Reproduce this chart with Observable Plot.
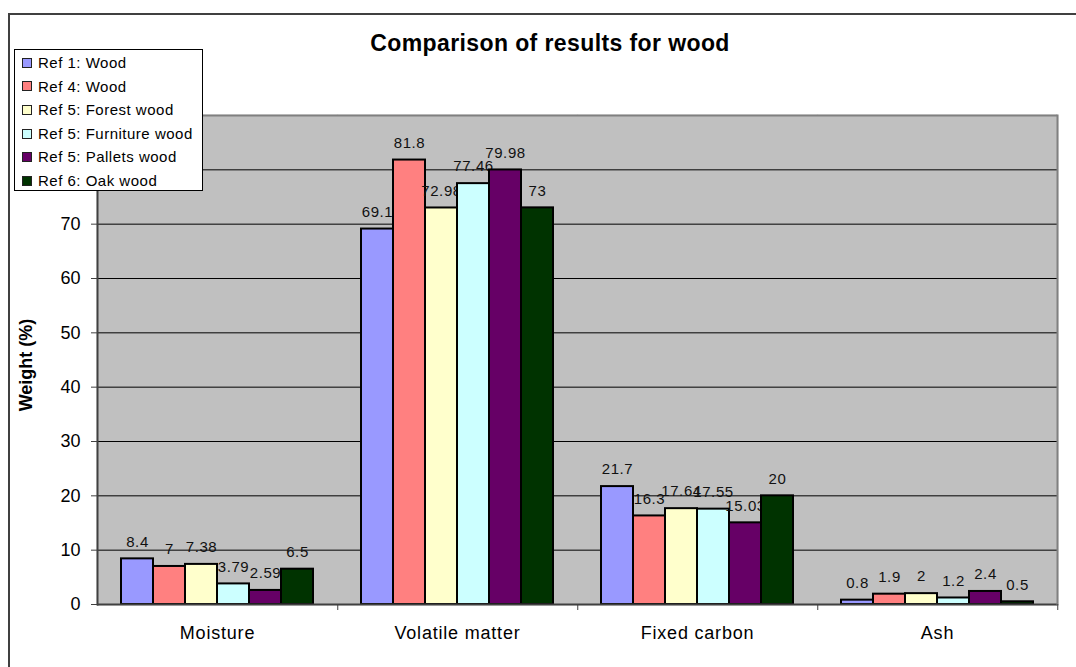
<!DOCTYPE html>
<html>
<head>
<meta charset="utf-8">
<script src="https://cdn.jsdelivr.net/npm/d3@7"></script>
<script src="https://cdn.jsdelivr.net/npm/@observablehq/plot@0.6"></script>
<style>
  body { margin: 0; background: white; font-family: "Liberation Sans", Arial, sans-serif; }
  #wrap { position: relative; width: 1076px; height: 667px; overflow: hidden; }
  #outer { position: absolute; left: 8px; top: 13px; width: 1100px; height: 700px;
           border-top: 2px solid #404040; border-left: 2px solid #404040; pointer-events: none; }
  #title { position: absolute; left: 0; width: 1100px; top: 30px; text-align: center;
           font-weight: bold; font-size: 23px; letter-spacing: 0.4px; color: black; }
  #ylabel { position: absolute; left: 26px; top: 365px; transform: translate(-50%, -50%) rotate(-90deg);
            font-weight: bold; font-size: 18px; white-space: nowrap; }
  #legend { position: absolute; left: 14px; top: 49px; width: 189px; height: 142px; background: white;
            border: 1px solid black; padding-top: 1px; box-sizing: border-box; }
  .item { height: 23.6px; line-height: 23.6px; font-size: 15px; letter-spacing: 0.5px; white-space: nowrap; display: flex; align-items: center; }
  .sw { width: 8px; height: 8px; border: 1px solid #222; margin-left: 7px; margin-right: 6px; }
  #chart svg g[aria-label="text"] text { letter-spacing: 0.6px; }
  #chart svg g[aria-label="fx-axis tick label"] text { letter-spacing: 0.8px; }
</style>
</head>
<body>
<div id="wrap">
  <div id="chart"></div>
  <div id="outer"></div>
  <div id="title">Comparison of results for wood</div>
  <div id="ylabel">Weight (%)</div>
  <div id="legend"></div>
</div>
<script>
const categories = ["Moisture", "Volatile matter", "Fixed carbon", "Ash"];
const series = ["Ref 1: Wood", "Ref 4: Wood", "Ref 5: Forest wood", "Ref 5: Furniture wood", "Ref 5: Pallets wood", "Ref 6: Oak wood"];
const colors = ["#9999FF", "#FF8080", "#FFFFCC", "#CCFFFF", "#660066", "#003300"];
const ref1Wood      = [8.4, 69.1, 21.7, 0.8];
const ref4Wood      = [7, 81.8, 16.3, 1.9];
const ref5Forest    = [7.38, 72.98, 17.64, 2];
const ref5Furniture = [3.79, 77.46, 17.55, 1.2];
const ref5Pallets   = [2.59, 79.98, 15.03, 2.4];
const ref6Oak       = [6.5, 73, 20, 0.5];
const yTicks = [0, 10, 20, 30, 40, 50, 60, 70];   // 80 and 90 sit behind the legend
const gridLines = [10, 20, 30, 40, 50, 60, 70, 80];

const seriesValues = [ref1Wood, ref4Wood, ref5Forest, ref5Furniture, ref5Pallets, ref6Oak];
const rows = [];
series.forEach((s, i) => categories.forEach((c, j) => rows.push({series: s, category: c, value: seriesValues[i][j]})));

const W = 1076, H = 667, mL = 96, mR = 18;
const fxBand = (W - mL - mR) / categories.length;

const barMarks = series.flatMap(s => {
  const d = rows.filter(r => r.series === s);
  return [
    Plot.barY(d, {fx: "category", x: "series", y: "value", fill: "series", stroke: "black", strokeWidth: 2}),
    Plot.text(d, {fx: "category", x: "series", y: "value", text: r => String(r.value), dy: -17, fontSize: 15, fill: "#111"})
  ];
});

const chart = Plot.plot({
  width: W, height: H,
  marginLeft: mL, marginRight: mR, marginTop: 115, marginBottom: 63,
  style: {fontFamily: "Liberation Sans, Arial, sans-serif", background: "transparent", color: "black"},
  fx: {domain: categories, padding: 0, label: null, axis: null},
  x: {domain: series, paddingInner: 0, paddingOuter: 0.72, axis: null},
  y: {domain: [0, 90], label: null, axis: null},
  color: {domain: series, range: colors},
  marks: [
    Plot.frame({fill: "#C0C0C0", stroke: "#C0C0C0", strokeWidth: 1.5}),
    Plot.ruleY(gridLines, {stroke: "black", strokeWidth: 1}),
    Plot.ruleY([90], {stroke: "#808080", strokeWidth: 2}),
    ...barMarks,
    Plot.ruleY([0], {stroke: "#404040", strokeWidth: 2}),
    Plot.frame({anchor: "left", facetAnchor: "left", stroke: "#404040", strokeWidth: 2}),
    Plot.frame({anchor: "right", facetAnchor: "right", stroke: "#808080", strokeWidth: 2}),
    Plot.axisY({ticks: yTicks, tickSize: 6, tickPadding: 11, fontSize: 18, label: null, stroke: "#404040"}),
    Plot.axisFx({anchor: "bottom", tickSize: 0, tickPadding: 22, fontSize: 18, label: null}),
    Plot.axisFx({anchor: "bottom", tickSize: 6, tickFormat: () => "", dx: fxBand / 2, label: null, stroke: "#404040"})
  ]
});
document.getElementById("chart").appendChild(chart);

const legend = document.getElementById("legend");
series.forEach((s, i) => {
  const row = document.createElement("div");
  row.className = "item";
  const sw = document.createElement("span");
  sw.className = "sw";
  sw.style.background = colors[i];
  const t = document.createElement("span");
  t.textContent = s;
  row.appendChild(sw); row.appendChild(t);
  legend.appendChild(row);
});
</script>
</body>
</html>
